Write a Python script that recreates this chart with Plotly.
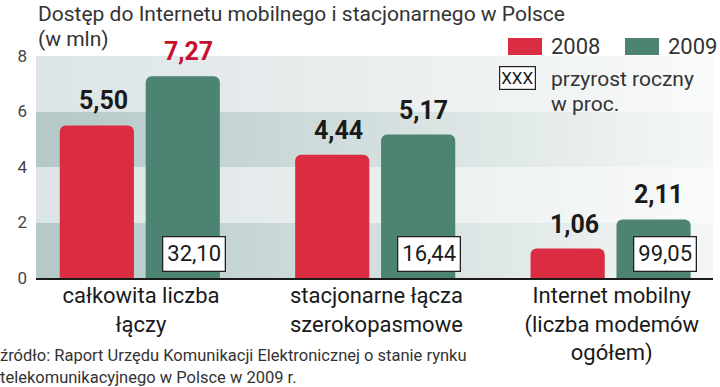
import plotly.graph_objects as go

# ---- data ----
categories = ["całkowita liczba<br>łączy", "stacjonarne łącza<br>szerokopasmowe",
              "Internet mobilny<br>(liczba modemów<br>ogółem)"]
series_names = ["2008", "2009"]
values_2008 = [5.50, 4.44, 1.06]
values_2009 = [7.27, 5.17, 2.11]
growth_pct = [32.10, 16.44, 99.05]
y_ticks = [0, 2, 4, 6, 8]

title_text = "Dostęp do Internetu mobilnego i stacjonarnego w Polsce"
unit_text = "(w mln)"
source_lines = ["źródło: Raport Urzędu Komunikacji Elektronicznej o stanie rynku",
                "telekomunikacyjnego w Polsce w 2009 r."]

# ---- style ----
W, H = 720, 387
ML, MR, MT, MB = 36, 7, 56, 109
PW, PH = W - ML - MR, H - MT - MB
FONT = "Roboto"
RED = "#da2d42"
GREEN = "#4c8373"
RED_TXT = "#c8102e"
XR = [-0.446, 2.43]
YR = [0, 8]

def px(x):
    return (x - ML) / PW

def py(y):
    return (H - MB - y) / PH

def fmt(v):
    return f"{v:.2f}".replace(".", ",")

idx = list(range(len(categories)))
fig = go.Figure()

# background bands (between y ticks), on the base axes
for lo, hi in zip(y_ticks[:-1], y_ticks[1:]):
    dark = (lo // 2) % 2 == 0
    cs = [[0, "#b3c8c7"], [0.5, "#d3dfde"], [1, "#f5f7f7"]] if dark else \
         [[0, "#dde5e6"], [0.5, "#e9eeee"], [1, "#f9fafa"]]
    fig.add_trace(go.Scatter(
        x=[XR[0], XR[1], XR[1], XR[0], XR[0]], y=[lo, lo, hi, hi, lo],
        mode="lines", line=dict(width=0), fill="toself",
        fillgradient=dict(type="horizontal", colorscale=cs),
        hoverinfo="skip", showlegend=False, xaxis="x", yaxis="y"))

# bars on overlaying axes (drawn above the bands)
fig.add_trace(go.Bar(x=idx, y=values_2008, name=series_names[0], offset=-0.345, width=0.315,
                     marker=dict(color=RED, cornerradius=6, line=dict(width=0)),
                     showlegend=False, xaxis="x2", yaxis="y2"))
fig.add_trace(go.Bar(x=idx, y=values_2009, name=series_names[1], offset=0.02, width=0.315,
                     marker=dict(color=GREEN, cornerradius=6, line=dict(width=0)),
                     showlegend=False, xaxis="x2", yaxis="y2"))

ann = []
# value labels
for i, v in enumerate(values_2008):
    ann.append(dict(xref="x2", yref="y2", x=i - 0.16, y=v, text=f"<b>{fmt(v)}</b>",
                    showarrow=False, yanchor="bottom", yshift=8,
                    font=dict(family=FONT, size=25, color="#1a1a1a")))
for i, v in enumerate(values_2009):
    col = RED_TXT if v == max(values_2009) else "#1a1a1a"
    ann.append(dict(xref="x2", yref="y2", x=i + 0.2, y=v, text=f"<b>{fmt(v)}</b>",
                    showarrow=False, yanchor="bottom", yshift=8,
                    font=dict(family=FONT, size=25, color=col)))
# growth boxes
for i, g in enumerate(growth_pct):
    ann.append(dict(xref="x2", yref="y2", x=i + 0.225, y=0.86, text=fmt(g), showarrow=False,
                    bgcolor="white", bordercolor="#222", borderwidth=1.3, borderpad=4,
                    font=dict(family=FONT, size=22, color="#1a1a1a")))

# title
ann.append(dict(xref="paper", yref="paper", x=px(36), y=py(14), xanchor="left", yanchor="middle",
                text=title_text, showarrow=False, font=dict(family=FONT, size=21, color="#333")))
ann.append(dict(xref="paper", yref="paper", x=px(36), y=py(39), xanchor="left", yanchor="middle",
                text=unit_text, showarrow=False, font=dict(family=FONT, size=21, color="#333")))
# source
for k, line in enumerate(source_lines):
    ann.append(dict(xref="paper", yref="paper", x=px(-2), y=py(355 + 22 * k), xanchor="left",
                    yanchor="middle", text=line, showarrow=False,
                    font=dict(family=FONT, size=16.5, color="#333")))

# legend
shapes = []
leg = [(508, RED, series_names[0], 549, "left"), (625, GREEN, series_names[1], 719, "right")]
for x0, col, name, tx, anc in leg:
    shapes.append(dict(type="rect", xref="paper", yref="paper", x0=px(x0), x1=px(x0 + 34),
                       y0=py(55), y1=py(38), fillcolor=col, line=dict(width=0), layer="above"))
    ann.append(dict(xref="paper", yref="paper", x=px(tx), y=py(47), xanchor=anc,
                    yanchor="middle", text=name, showarrow=False,
                    font=dict(family=FONT, size=22, color="#333")))
ann.append(dict(xref="paper", yref="paper", x=px(517), y=py(78), xanchor="center", yanchor="middle",
                text="XXX", showarrow=False, bgcolor="white", bordercolor="#222", borderwidth=1.2,
                borderpad=1, font=dict(family=FONT, size=17, color="#1a1a1a")))
ann.append(dict(xref="paper", yref="paper", x=px(549), y=py(79), xanchor="left", yanchor="middle",
                text="przyrost roczny", showarrow=False, font=dict(family=FONT, size=21, color="#333")))
ann.append(dict(xref="paper", yref="paper", x=px(549), y=py(104), xanchor="left", yanchor="middle",
                text="w proc.", showarrow=False, font=dict(family=FONT, size=21, color="#333")))

fig.update_layout(
    width=W, height=H, margin=dict(l=ML, r=MR, t=MT, b=MB, autoexpand=False),
    paper_bgcolor="white", plot_bgcolor="white",
    barmode="overlay", annotations=ann, shapes=shapes, showlegend=False,
    xaxis=dict(range=XR, tickvals=idx, ticktext=categories, showgrid=False, zeroline=False,
               showline=False, ticks="", fixedrange=True, automargin=False,
               tickfont=dict(family=FONT, size=22, color="#1a1a1a"), ticklabelstandoff=2),
    yaxis=dict(range=YR, tickvals=y_ticks, showgrid=False, zeroline=False, showline=False,
               ticks="", automargin=False, fixedrange=True,
               tickfont=dict(family=FONT, size=17, color="#444"), ticklabelstandoff=8),
    xaxis2=dict(range=XR, overlaying="x", showticklabels=False, showgrid=False,
                zeroline=False, showline=True, linecolor="#1a1a1a", linewidth=2, ticks="",
                automargin=False, fixedrange=True),
    yaxis2=dict(range=YR, overlaying="y", tickvals=y_ticks, showticklabels=False, showgrid=True,
                gridcolor="rgba(255,255,255,0.9)", gridwidth=1.5, zeroline=False, showline=False,
                ticks="", layer="above traces", automargin=False, fixedrange=True),
)

fig.write_html("out.html", config={"displayModeBar": False},
               post_script="document.body.style.margin='0';document.body.style.overflow='hidden';")
